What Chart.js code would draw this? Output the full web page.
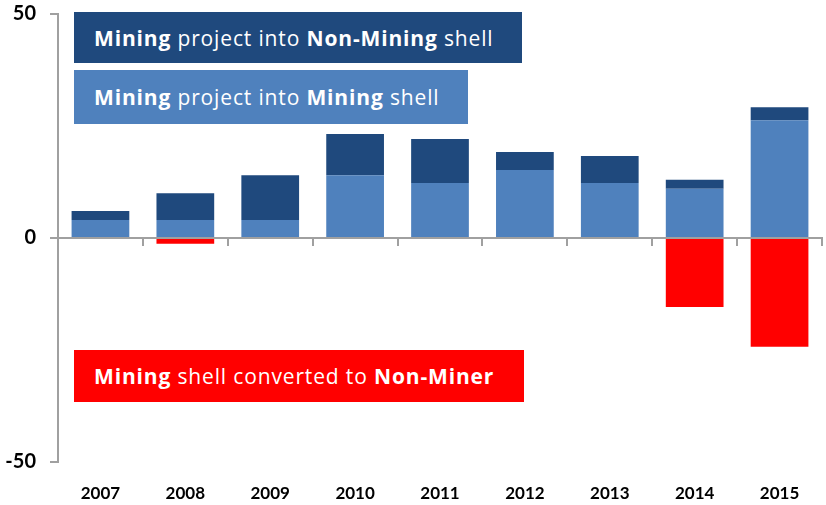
<!DOCTYPE html>
<html>
<head>
<meta charset="utf-8">
<script src="https://cdn.jsdelivr.net/npm/chart.js@4/dist/chart.umd.min.js"></script>
<style>
  html, body { margin: 0; padding: 0; background: #fff; }
  #wrap { position: relative; width: 826px; height: 505px; }
  .key {
    position: absolute; left: 74px; color: #fff;
    font-family: "Open Sans", Lato, sans-serif; font-size: 21px; letter-spacing: 0.85px;
    box-sizing: border-box; padding-left: 20px; display: flex; align-items: center;
    white-space: nowrap;
  }
  .key b { font-weight: 700; }
</style>
</head>
<body>
<div id="wrap">
  <canvas id="chart" width="826" height="505"></canvas>
  <div class="key" style="top:12px;width:448px;height:51px;background:#1f497d;"><span><b>Mining</b> project into <b>Non-Mining</b> shell</span></div>
  <div class="key" style="top:70px;width:394px;height:54px;background:#4f81bd;"><span><b>Mining</b> project into <b>Mining</b> shell</span></div>
  <div class="key" style="top:350px;width:450px;height:52px;background:#ff0000;"><span><b>Mining</b> shell converted to <b>Non-Miner</b></span></div>
</div>
<script>
  "use strict";
  // values
  var years = ['2007', '2008', '2009', '2010', '2011', '2012', '2013', '2014', '2015'];
  var intoMiningShell = [4, 4, 4, 14, 12.3, 15.2, 12.3, 11, 26.3];
  var intoNonMiningShell = [2, 6, 10, 9.2, 9.8, 4, 6, 2, 2.9];
  var convertedToNonMiner = [0, -1.3, 0, 0, 0, 0, 0, -15.4, -24.3];
  var yTicks = [-50, 0, 50];

  var axisGrey = '#a0a0a0';
  var fontFamily = 'Lato, "Open Sans", sans-serif';

  var ctx = document.getElementById('chart').getContext('2d');
  var chart = new Chart(ctx, {
    type: 'bar',
    data: {
      labels: years,
      datasets: [{
        label: 'Mining project into Mining shell',
        data: intoMiningShell,
        backgroundColor: '#4f81bd'
      }, {
        label: 'Mining project into Non-Mining shell',
        data: intoNonMiningShell,
        backgroundColor: '#1f497d'
      }, {
        label: 'Mining shell converted to Non-Miner',
        data: convertedToNonMiner,
        backgroundColor: '#ff0000'
      }]
    },
    options: {
      responsive: false,
      animation: false,
      layout: { padding: { top: 14, right: 4, left: 0, bottom: 0 } },
      datasets: {
        bar: { categoryPercentage: 1, barPercentage: 0.68, borderWidth: 0 }
      },
      plugins: {
        legend: { display: false },
        tooltip: { enabled: false }
      },
      scales: {
        x: {
          stacked: true,
          position: { y: 0 },
          offset: true,
          grid: { offset: true, drawOnChartArea: false, drawTicks: true, tickLength: 7, color: axisGrey, lineWidth: 2 },
          border: { color: axisGrey, width: 2 },
          ticks: { display: false }
        },
        x2: {
          type: 'category',
          labels: years,
          position: 'bottom',
          offset: true,
          afterFit: function (scale) { scale.height = 43; scale.paddingLeft = 0; scale.paddingRight = 0; },
          grid: { display: false },
          border: { display: false },
          ticks: { color: '#000', font: { family: fontFamily, size: 17, weight: 'bold' }, padding: 13, maxRotation: 0 }
        },
        y: {
          stacked: true,
          min: -50,
          max: 50,
          afterFit: function (scale) { scale.width = 58; scale.paddingTop = 0; scale.paddingBottom = 0; },
          afterBuildTicks: function (scale) {
            scale.ticks = yTicks.map(function (v) { return { value: v }; });
          },
          grid: { drawOnChartArea: false, drawTicks: true, tickLength: 8, color: axisGrey, lineWidth: 2 },
          border: { color: axisGrey, width: 2 },
          ticks: { color: '#000', font: { family: fontFamily, size: 20, weight: 'bold' }, padding: 14 }
        }
      }
    }
  });
</script>
</body>
</html>
